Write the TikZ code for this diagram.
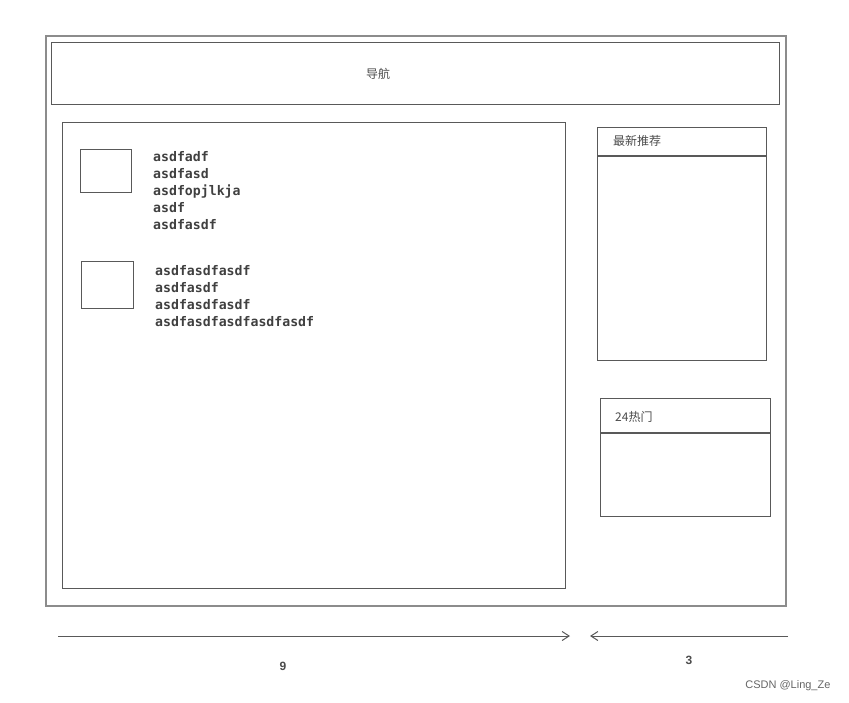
\documentclass[tikz,border=0pt]{standalone}
\usepackage{fontspec}
\setmainfont{Liberation Sans}
\newfontfamily\cjk{Noto Sans CJK SC}
\newfontfamily\monof{DejaVu Sans Mono}
\usetikzlibrary{arrows.meta}
\begin{document}
\begin{tikzpicture}[x=1pt,y=-1pt,
  box/.style={draw=black!65,line width=1.1pt},
  mono/.style={font=\monof\fontsize{13.2}{17}\selectfont\bfseries,text=black!75,anchor=north west,align=left,inner sep=0pt},
  cn/.style={font=\cjk\fontsize{12}{14}\selectfont,text=black!70,inner sep=0pt},
  arr/.style={draw=black!65,line width=1pt,-{Straight Barb[length=7pt,width=9pt]}}]
\useasboundingbox (0,0) rectangle (849,702);
\fill[white] (0,0) rectangle (849,702);
\draw[box,draw=black!45,line width=1.5pt] (46,36) rectangle (786,606);
\node[box,minimum width=728pt,minimum height=62pt,anchor=north west] (nav) at (51,42) {};
\node[cn] (navt) at (378,74) {导航};
\node[box,minimum width=503pt,minimum height=466pt,anchor=north west] (main) at (62,122) {};
\node[box,minimum width=51pt,minimum height=43pt,anchor=north west] (t1) at (80,149) {};
\node[box,minimum width=52pt,minimum height=47pt,anchor=north west] (t2) at (81,261) {};
\node[mono] (l1) at (153,151) {asdfadf\\asdfasd\\asdfopjlkja\\asdf\\asdfasdf};
\node[mono] (l2) at (155,265) {asdfasdfasdf\\asdfasdf\\asdfasdfasdf\\asdfasdfasdfasdfasdf};
\node[box,minimum width=169pt,minimum height=233pt,anchor=north west] (r1) at (597,127) {};
\draw[box] (597,156) -- (766,156);
\node[cn,anchor=west] (r1t) at (613,141) {最新推荐};
\node[box,minimum width=170pt,minimum height=118pt,anchor=north west] (r2) at (600,398) {};
\draw[box] (600,433) -- (770,433);
\node[cn,anchor=west] (r2t) at (615,417) {24热门};
\coordinate (a1s) at (58,636); \coordinate (a1e) at (570,636);
\coordinate (a2s) at (788,636); \coordinate (a2e) at (590,636);
\draw[arr] (a1s) -- (a1e);
\draw[arr] (a2s) -- (a2e);
\node[font=\bfseries\fontsize{12}{14}\selectfont,text=black!70] (n9) at (283,666) {9};
\node[font=\bfseries\fontsize{12}{14}\selectfont,text=black!70] (n3) at (689,660) {3};
\node[font=\fontsize{11}{13}\selectfont,text=black!60,anchor=east] (wm) at (834,686) {CSDN @Ling\_Ze};
\end{tikzpicture}
\end{document}
